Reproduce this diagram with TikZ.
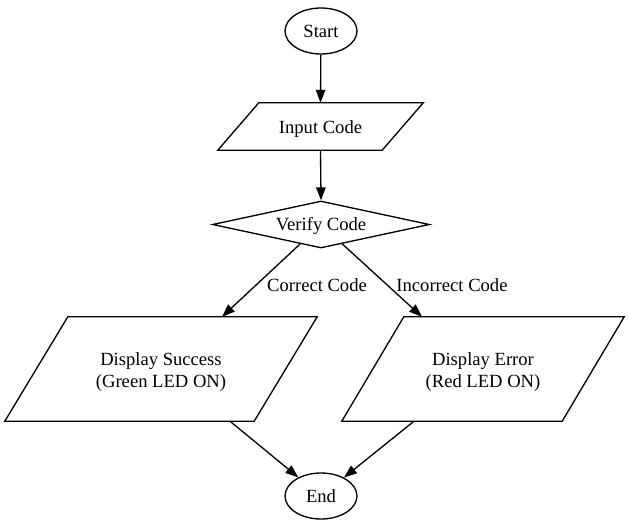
\documentclass[tikz,border=0pt]{standalone}
\usepackage{fontspec}
\setmainfont{Liberation Serif}
\usetikzlibrary{shapes.geometric,arrows.meta,calc}
\begin{document}
\begin{tikzpicture}[x=1pt,y=-1pt,
  every node/.style={font=\fontsize{18.6}{22.5}\selectfont},
  term/.style={ellipse,draw,line width=1.33pt,minimum width=72pt,minimum height=46pt,inner sep=0pt},
  box/.style={rectangle,draw=none,inner sep=0pt,align=center},
  dec/.style={diamond,draw,line width=1.33pt,aspect=4.6,minimum width=217pt,minimum height=47pt,inner sep=0pt},
  txt/.style={inner sep=0pt,align=center},
  flow/.style={line width=1.33pt,-{Triangle[length=13pt,width=9.5pt]}},
  lbl/.style={inner sep=0pt},
  shp/.style={draw,line width=1.33pt}]
\useasboundingbox (0,0) rectangle (629,525);
\node[term] (start) at (321,31) {Start};
\node[box,minimum width=205pt,minimum height=47pt] (ic) at (320.5,126.5) {};
\draw[shp] ($(ic.north west)+(41,0)$) -- (ic.north east) -- ($(ic.south east)-(41,0)$) -- (ic.south west) -- cycle;
\node[txt] (ict) at ($(ic.center)+(0,2.5)$) {Input Code};
\node[dec] (vc) at (321,224.5) {};
\node[txt] (vct) at ($(vc.center)+(0,1.5)$) {Verify Code};
\node[box,minimum width=312pt,minimum height=104pt] (ds) at (161,369) {};
\draw[shp] ($(ds.north west)+(63,0)$) -- (ds.north east) -- ($(ds.south east)-(63,0)$) -- (ds.south west) -- cycle;
\node[txt] (dst) at ($(ds.center)+(0,3)$) {Display Success\\(Green LED ON)};
\node[box,minimum width=282pt,minimum height=104pt] (de) at (483,369) {};
\draw[shp] ($(de.north west)+(62,0)$) -- (de.north east) -- ($(de.south east)-(62,0)$) -- (de.south west) -- cycle;
\node[txt] (det) at ($(de.center)+(0,3)$) {Display Error\\(Red LED ON)};
\node[term] (end) at (321,496) {End};
\draw[flow] (start) -- (ic.north);
\draw[flow] (ic.south) -- (vc.north);
\coordinate (dsin) at ($(ds.north)+(61,0)$);
\coordinate (dein) at ($(de.north)+(-61,0)$);
\coordinate (dsout) at ($(ds.south)+(69,0)$);
\coordinate (deout) at ($(de.south)+(-69,0)$);
\draw[flow] (vc) -- (dsin);
\draw[flow] (vc) -- (dein);
\draw[flow] (dsout) -- (end);
\draw[flow] (deout) -- (end);
\node[lbl] (l1) at (317,285) {Correct Code};
\node[lbl] (l2) at (452,285) {Incorrect Code};
\end{tikzpicture}
\end{document}
